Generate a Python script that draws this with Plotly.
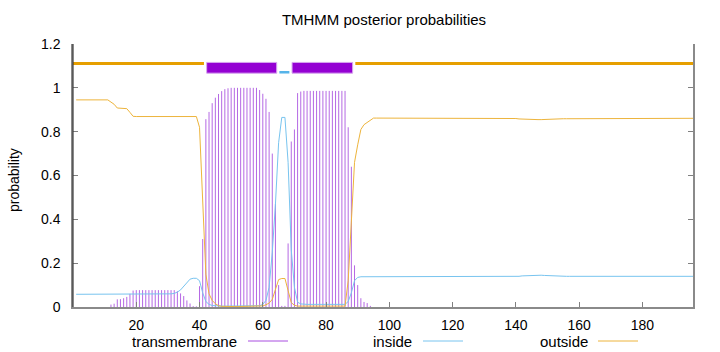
import plotly.graph_objects as go

# ---------------- data ----------------
residues = list(range(1, 197))

transmembrane = [
    0, 0, 0, 0, 0, 0, 0, 0, 0, 0, 0, 0.011, 0.015, 0.035,
    0.036, 0.04, 0.046, 0.06, 0.075, 0.077, 0.077, 0.077, 0.077, 0.077, 0.077, 0.077, 0.077, 0.077,
    0.077, 0.077, 0.077, 0.077, 0.072, 0.062, 0.05, 0.03, 0.016, 0.004, 0.003, 0.095, 0.31, 0.857,
    0.89, 0.93, 0.955, 0.972, 0.985, 0.994, 0.998, 1, 1, 1, 1, 1, 1, 1,
    1, 1, 0.99, 0.973, 0.95, 0.89, 0.70, 0.47, 0.1, 0.005, 0.005, 0.29, 0.755, 0.81,
    0.976, 0.983, 0.986, 0.986, 0.986, 0.986, 0.986, 0.986, 0.986, 0.986, 0.986, 0.986, 0.986, 0.986,
    0.986, 0.986, 0.82, 0.64, 0.19, 0.1, 0.04, 0.023, 0.018, 0.005, 0, 0, 0, 0,
    0, 0, 0, 0, 0, 0, 0, 0, 0, 0, 0, 0, 0, 0,
    0, 0, 0, 0, 0, 0, 0, 0, 0, 0, 0, 0, 0, 0,
    0, 0, 0, 0, 0, 0, 0, 0, 0, 0, 0, 0, 0, 0,
    0, 0, 0, 0, 0, 0, 0, 0, 0, 0, 0, 0, 0, 0,
    0, 0, 0, 0, 0, 0, 0, 0, 0, 0, 0, 0, 0, 0,
    0, 0, 0, 0, 0, 0, 0, 0, 0, 0, 0, 0, 0, 0,
    0, 0, 0, 0, 0, 0, 0, 0, 0, 0, 0, 0, 0, 0,
]

inside = [
    0.058, 0.058, 0.058, 0.058, 0.058, 0.058, 0.058, 0.058, 0.058, 0.058, 0.058, 0.058, 0.058, 0.058,
    0.058, 0.058, 0.058, 0.058, 0.058, 0.058, 0.058, 0.058, 0.058, 0.058, 0.058, 0.058, 0.058, 0.058,
    0.058, 0.058, 0.06, 0.062, 0.068, 0.078, 0.095, 0.115, 0.127, 0.131, 0.131, 0.12, 0.065, 0.025,
    0.012, 0.007, 0.005, 0.004, 0.004, 0.004, 0.004, 0.004, 0.004, 0.004, 0.004, 0.004, 0.004, 0.004,
    0.004, 0.004, 0.006, 0.012, 0.03, 0.09, 0.25, 0.47, 0.75, 0.865, 0.865, 0.66, 0.26, 0.09,
    0.022, 0.014, 0.012, 0.012, 0.012, 0.012, 0.012, 0.012, 0.012, 0.012, 0.012, 0.012, 0.012, 0.012,
    0.012, 0.012, 0.025, 0.065, 0.12, 0.135, 0.138, 0.138, 0.138, 0.138, 0.138, 0.138, 0.138, 0.138,
    0.138, 0.138, 0.138, 0.138, 0.138, 0.138, 0.138, 0.138, 0.138, 0.138, 0.138, 0.138, 0.138, 0.138,
    0.138, 0.138, 0.138, 0.138, 0.138, 0.138, 0.138, 0.138, 0.138, 0.138, 0.138, 0.138, 0.138, 0.138,
    0.138, 0.138, 0.138, 0.138, 0.138, 0.138, 0.138, 0.138, 0.138, 0.138, 0.138, 0.138, 0.138, 0.138,
    0.14, 0.142, 0.143, 0.144, 0.145, 0.145, 0.145, 0.145, 0.144, 0.143, 0.142, 0.141, 0.14, 0.14,
    0.14, 0.14, 0.14, 0.14, 0.14, 0.14, 0.14, 0.14, 0.14, 0.14, 0.14, 0.14, 0.14, 0.14,
    0.14, 0.14, 0.14, 0.14, 0.14, 0.14, 0.14, 0.14, 0.14, 0.14, 0.14, 0.14, 0.14, 0.14,
    0.14, 0.14, 0.14, 0.14, 0.14, 0.14, 0.14, 0.14, 0.14, 0.14, 0.14, 0.14, 0.14, 0.14,
]

outside = [
    0.945, 0.945, 0.945, 0.945, 0.945, 0.945, 0.945, 0.945, 0.945, 0.945, 0.945, 0.935, 0.925, 0.908,
    0.907, 0.907, 0.905, 0.888, 0.87, 0.869, 0.869, 0.869, 0.869, 0.869, 0.869, 0.869, 0.869, 0.869,
    0.869, 0.869, 0.869, 0.869, 0.869, 0.869, 0.869, 0.869, 0.869, 0.869, 0.869, 0.82, 0.5, 0.15,
    0.06, 0.03, 0.015, 0.006, 0.003, 0.002, 0.002, 0.002, 0.002, 0.002, 0.002, 0.002, 0.002, 0.002,
    0.002, 0.002, 0.002, 0.005, 0.01, 0.018, 0.035, 0.08, 0.125, 0.13, 0.13, 0.075, 0.02, 0.008,
    0.004, 0.004, 0.004, 0.004, 0.004, 0.004, 0.004, 0.004, 0.004, 0.004, 0.004, 0.004, 0.004, 0.004,
    0.004, 0.004, 0.12, 0.4, 0.66, 0.74, 0.81, 0.832, 0.843, 0.855, 0.862, 0.862, 0.862, 0.862,
    0.862, 0.862, 0.862, 0.862, 0.862, 0.862, 0.862, 0.862, 0.862, 0.862, 0.862, 0.862, 0.862, 0.862,
    0.861, 0.861, 0.861, 0.861, 0.861, 0.861, 0.861, 0.861, 0.861, 0.861, 0.861, 0.861, 0.861, 0.861,
    0.86, 0.86, 0.86, 0.86, 0.86, 0.86, 0.86, 0.86, 0.86, 0.86, 0.86, 0.86, 0.86, 0.86,
    0.858, 0.857, 0.856, 0.855, 0.855, 0.855, 0.855, 0.855, 0.856, 0.857, 0.858, 0.859, 0.859, 0.859,
    0.859, 0.859, 0.859, 0.859, 0.859, 0.859, 0.859, 0.859, 0.859, 0.859, 0.859, 0.859, 0.859, 0.859,
    0.859, 0.859, 0.859, 0.859, 0.861, 0.861, 0.861, 0.861, 0.861, 0.861, 0.861, 0.861, 0.861, 0.861,
    0.861, 0.861, 0.861, 0.861, 0.861, 0.861, 0.861, 0.861, 0.861, 0.861, 0.861, 0.861, 0.861, 0.861,
]

# predicted topology (top track)
seg_labels = ["outside", "TM", "inside", "TM", "outside"]
seg_start = [1, 42, 65, 69, 89]
seg_end = [41, 64, 68, 88, 196]

x_ticks = [20, 40, 60, 80, 100, 120, 140, 160, 180]
y_ticks = [0, 0.2, 0.4, 0.6, 0.8, 1.0, 1.2]
y_tick_text = ["0", "0.2", "0.4", "0.6", "0.8", "1", "1.2"]

title_text = "TMHMM posterior probabilities"
y_label = "probability"
legend_names = ["transmembrane", "inside", "outside"]

# ---------------- styling ----------------
C_TM = "#9400d3"
C_IN = "#56b4e9"
C_OUT = "#e69f00"
C_TM_LINE = "#a94fe0"
C_IN_LINE = "#78c4ef"
C_OUT_LINE = "#edb43c"
FONT = "Liberation Sans, Arial, sans-serif"
X_RANGE = [0, 196]
Y_RANGE = [0, 1.2]
Y_OUT_LINE = 1.111
Y_IN_LINE = 1.071
BOX_LO, BOX_HI = 1.067, 1.116

W, H = 720, 352
ML, MR, MT, MB = 73, 27, 44, 45

fig = go.Figure()

# impulses for transmembrane probability
ix, iy = [], []
for r, v in zip(residues, transmembrane):
    if v > 0:
        ix += [r, r, None]
        iy += [0, v, None]
fig.add_trace(go.Scatter(x=ix, y=iy, mode="lines", line=dict(color=C_TM_LINE, width=1),
                         opacity=0.85, hoverinfo="skip", showlegend=False))

fig.add_trace(go.Scatter(x=residues, y=inside, mode="lines",
                         line=dict(color=C_IN_LINE, width=1), showlegend=False))
fig.add_trace(go.Scatter(x=residues, y=outside, mode="lines",
                         line=dict(color=C_OUT_LINE, width=1), showlegend=False))

# top topology track
for lab, s, e in zip(seg_labels, seg_start, seg_end):
    x0 = X_RANGE[0] if s == 1 else s + 0.25
    x1 = e + 0.4
    if lab == "TM":
        fig.add_trace(go.Scatter(x=[x0, x1, x1, x0, x0], y=[BOX_LO, BOX_LO, BOX_HI, BOX_HI, BOX_LO],
                                 mode="lines", fill="toself", fillcolor=C_TM,
                                 line=dict(color="#d7a6ef", width=1), showlegend=False,
                                 hoverinfo="skip"))
    elif lab == "inside":
        fig.add_trace(go.Scatter(x=[x0, x1], y=[Y_IN_LINE, Y_IN_LINE], mode="lines",
                                 line=dict(color=C_IN, width=2.5), showlegend=False))
    else:
        fig.add_trace(go.Scatter(x=[x0, x1], y=[Y_OUT_LINE, Y_OUT_LINE], mode="lines",
                                 line=dict(color=C_OUT, width=3), showlegend=False))

PW = W - ML - MR
PH = H - MT - MB


def px2paper_x(px):
    return (px - ML) / PW


def px2paper_y(py):
    return (H - MB - py) / PH


annotations = []
shapes = []
# darker left axis line (the border elsewhere is grey)
shapes.append(dict(type="line", xref="paper", yref="paper", x0=0, x1=0, y0=0, y1=1,
                   line=dict(color="#3a3a3a", width=1.2), layer="above"))
# manual legend: text then sample line
legend_text_right = [239, 414, 590]
legend_line_x = [(248, 288), (423, 463), (598, 638)]
legend_cols = [C_TM_LINE, C_IN_LINE, C_OUT_LINE]
for name, tr, (l0, l1), col in zip(legend_names, legend_text_right, legend_line_x, legend_cols):
    annotations.append(dict(text=name, x=px2paper_x(tr), y=px2paper_y(341), xref="paper", yref="paper",
                            xanchor="right", yanchor="middle", showarrow=False,
                            font=dict(family=FONT, size=15, color="#000")))
    shapes.append(dict(type="line", xref="paper", yref="paper",
                       x0=px2paper_x(l0), x1=px2paper_x(l1), y0=px2paper_y(341), y1=px2paper_y(341),
                       line=dict(color=col, width=1)))

annotations.append(dict(text=y_label, x=px2paper_x(14), y=px2paper_y(180), xref="paper", yref="paper",
                        xanchor="center", yanchor="middle", textangle=-90, showarrow=False,
                        font=dict(family=FONT, size=14, color="#000")))

fig.update_layout(
    width=W, height=H,
    margin=dict(l=ML, r=MR, t=MT, b=MB),
    paper_bgcolor="white", plot_bgcolor="white",
    title=dict(text=title_text, x=384 / W, y=1 - 20 / H, xanchor="center", yanchor="middle",
               font=dict(family=FONT, size=15, color="#000")),
    annotations=annotations, shapes=shapes,
    showlegend=False,
)
fig.update_xaxes(range=X_RANGE, tickvals=x_ticks, ticks="inside", ticklen=5, tickcolor="#808080",
                 showline=True, linecolor="#8a8a8a", linewidth=1.5, showgrid=False, zeroline=False,
                 ticklabelstandoff=4, tickfont=dict(family=FONT, size=14, color="#000"))
fig.update_yaxes(range=Y_RANGE, tickvals=y_ticks, ticktext=y_tick_text, ticks="inside", ticklen=5,
                 tickcolor="#808080", showline=True, linecolor="#8a8a8a", linewidth=1.5, mirror="ticks",
                 showgrid=False, zeroline=False, ticklabelstandoff=8,
                 tickfont=dict(family=FONT, size=14, color="#000"))

fig.write_html("out.html")
